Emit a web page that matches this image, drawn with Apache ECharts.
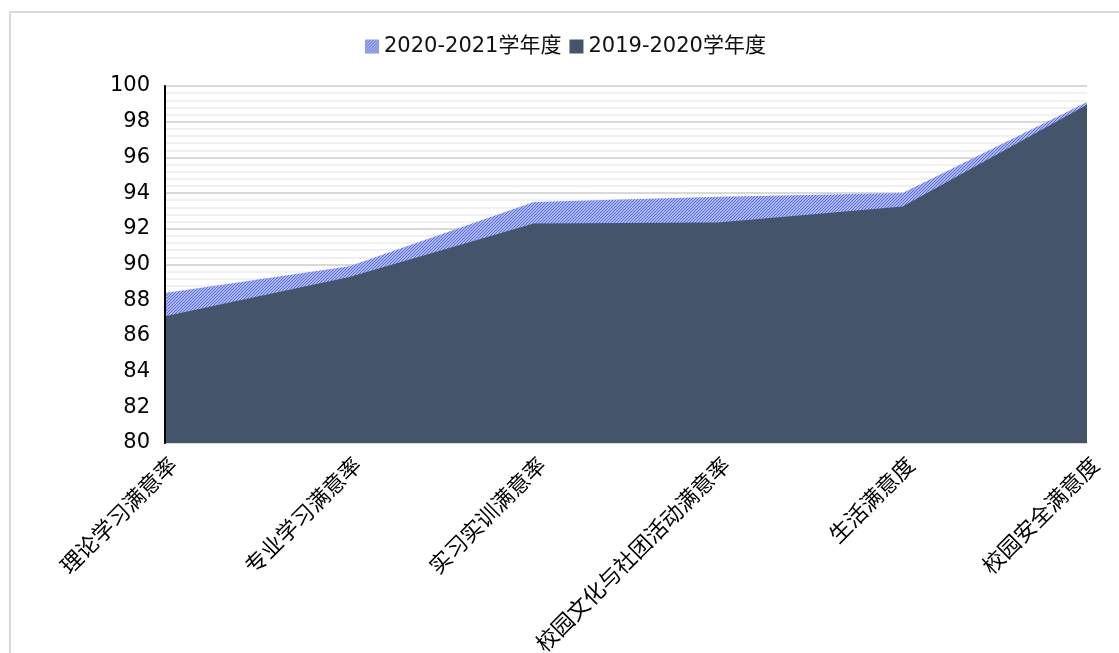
<!DOCTYPE html>
<html>
<head>
<meta charset="utf-8">
<script src="https://cdn.jsdelivr.net/npm/echarts@6/dist/echarts.min.js"></script>
<style>
html,body{margin:0;padding:0;background:#fff;}
#c{width:1119px;height:653px;}
</style>
</head>
<body>
<div id="c"></div>
<script>
const categories = ['理论学习满意率','专业学习满意率','实习实训满意率','校园文化与社团活动满意率','生活满意度','校园安全满意度'];
const series2021 = [88.4, 89.9, 93.5, 93.8, 94.0, 99.1];
const series2020 = [87.1, 89.3, 92.3, 92.35, 93.25, 98.95];
const seriesNames = ['2020-2021学年度','2019-2020学年度'];

function makePattern(){
  const c = document.createElement('canvas');
  c.width = 3; c.height = 3;
  const ctx = c.getContext('2d');
  ctx.fillStyle = '#a8b5f2';
  ctx.fillRect(0,0,3,3);
  ctx.fillStyle = '#5f70d6';
  ctx.fillRect(0,2,1,1);
  ctx.fillRect(1,1,1,1);
  ctx.fillRect(2,0,1,1);
  return c;
}
const pat = {image: makePattern(), repeat: 'repeat'};
const dark = '#44546a';
const font = '"DejaVu Sans", "Noto Sans CJK SC", sans-serif';

const chart = echarts.init(document.getElementById('c'));
chart.setOption({
  animation: false,
  graphic: [{
    type: 'rect', z: -10, silent: true,
    shape: {x: 10, y: 12, width: 1200, height: 700},
    style: {fill: 'none', stroke: '#d9d9d9', lineWidth: 2}
  }],
  legend: {
    top: 31, left: 360,
    icon: 'rect', itemWidth: 14, itemHeight: 14, itemGap: 8,
    textStyle: {fontSize: 21, color: '#111', fontFamily: font},
    data: [
      {name: seriesNames[0], itemStyle: {color: pat}},
      {name: seriesNames[1], itemStyle: {color: dark}}
    ]
  },
  grid: {left: 165, right: 32, top: 86, bottom: 210, outerBoundsMode: 'none', containLabel: false},
  xAxis: {
    type: 'category', boundaryGap: false, data: categories,
    axisLine: {show: true, lineStyle: {color: '#d9d9d9', width: 2}},
    axisTick: {show: false},
    axisLabel: {rotate: 45, fontSize: 22, color: '#000', margin: 10, fontFamily: '"Noto Sans CJK SC", sans-serif', interval: 0, verticalAlign: 'top'}
  },
  yAxis: [{
    type: 'value', min: 80, max: 100, interval: 2,
    axisLine: {show: false},
    axisTick: {show: false},
    axisLabel: {fontSize: 21, color: '#000', margin: 15, fontFamily: font},
    splitLine: {show: true, lineStyle: {color: '#d9d9d9', width: 2}},
    minorTick: {show: false, splitNumber: 5},
    minorSplitLine: {show: true, lineStyle: {color: '#f0f0f0', width: 2}}
  }, {
    type: 'value', min: 80, max: 100, interval: 2, position: 'left', z: 10,
    axisLine: {show: true, lineStyle: {color: '#000', width: 2}},
    axisTick: {show: false}, axisLabel: {show: false}, splitLine: {show: false}
  }],
  series: [
    {
      name: seriesNames[0], type: 'line', data: series2021,
      symbol: 'none', lineStyle: {width: 0}, itemStyle: {color: pat},
      areaStyle: {color: pat, opacity: 1}, z: 2
    },
    {
      name: seriesNames[1], type: 'line', data: series2020,
      symbol: 'none', lineStyle: {width: 0}, itemStyle: {color: dark},
      areaStyle: {color: dark, opacity: 1}, z: 3
    }
  ]
});
</script>
</body>
</html>
